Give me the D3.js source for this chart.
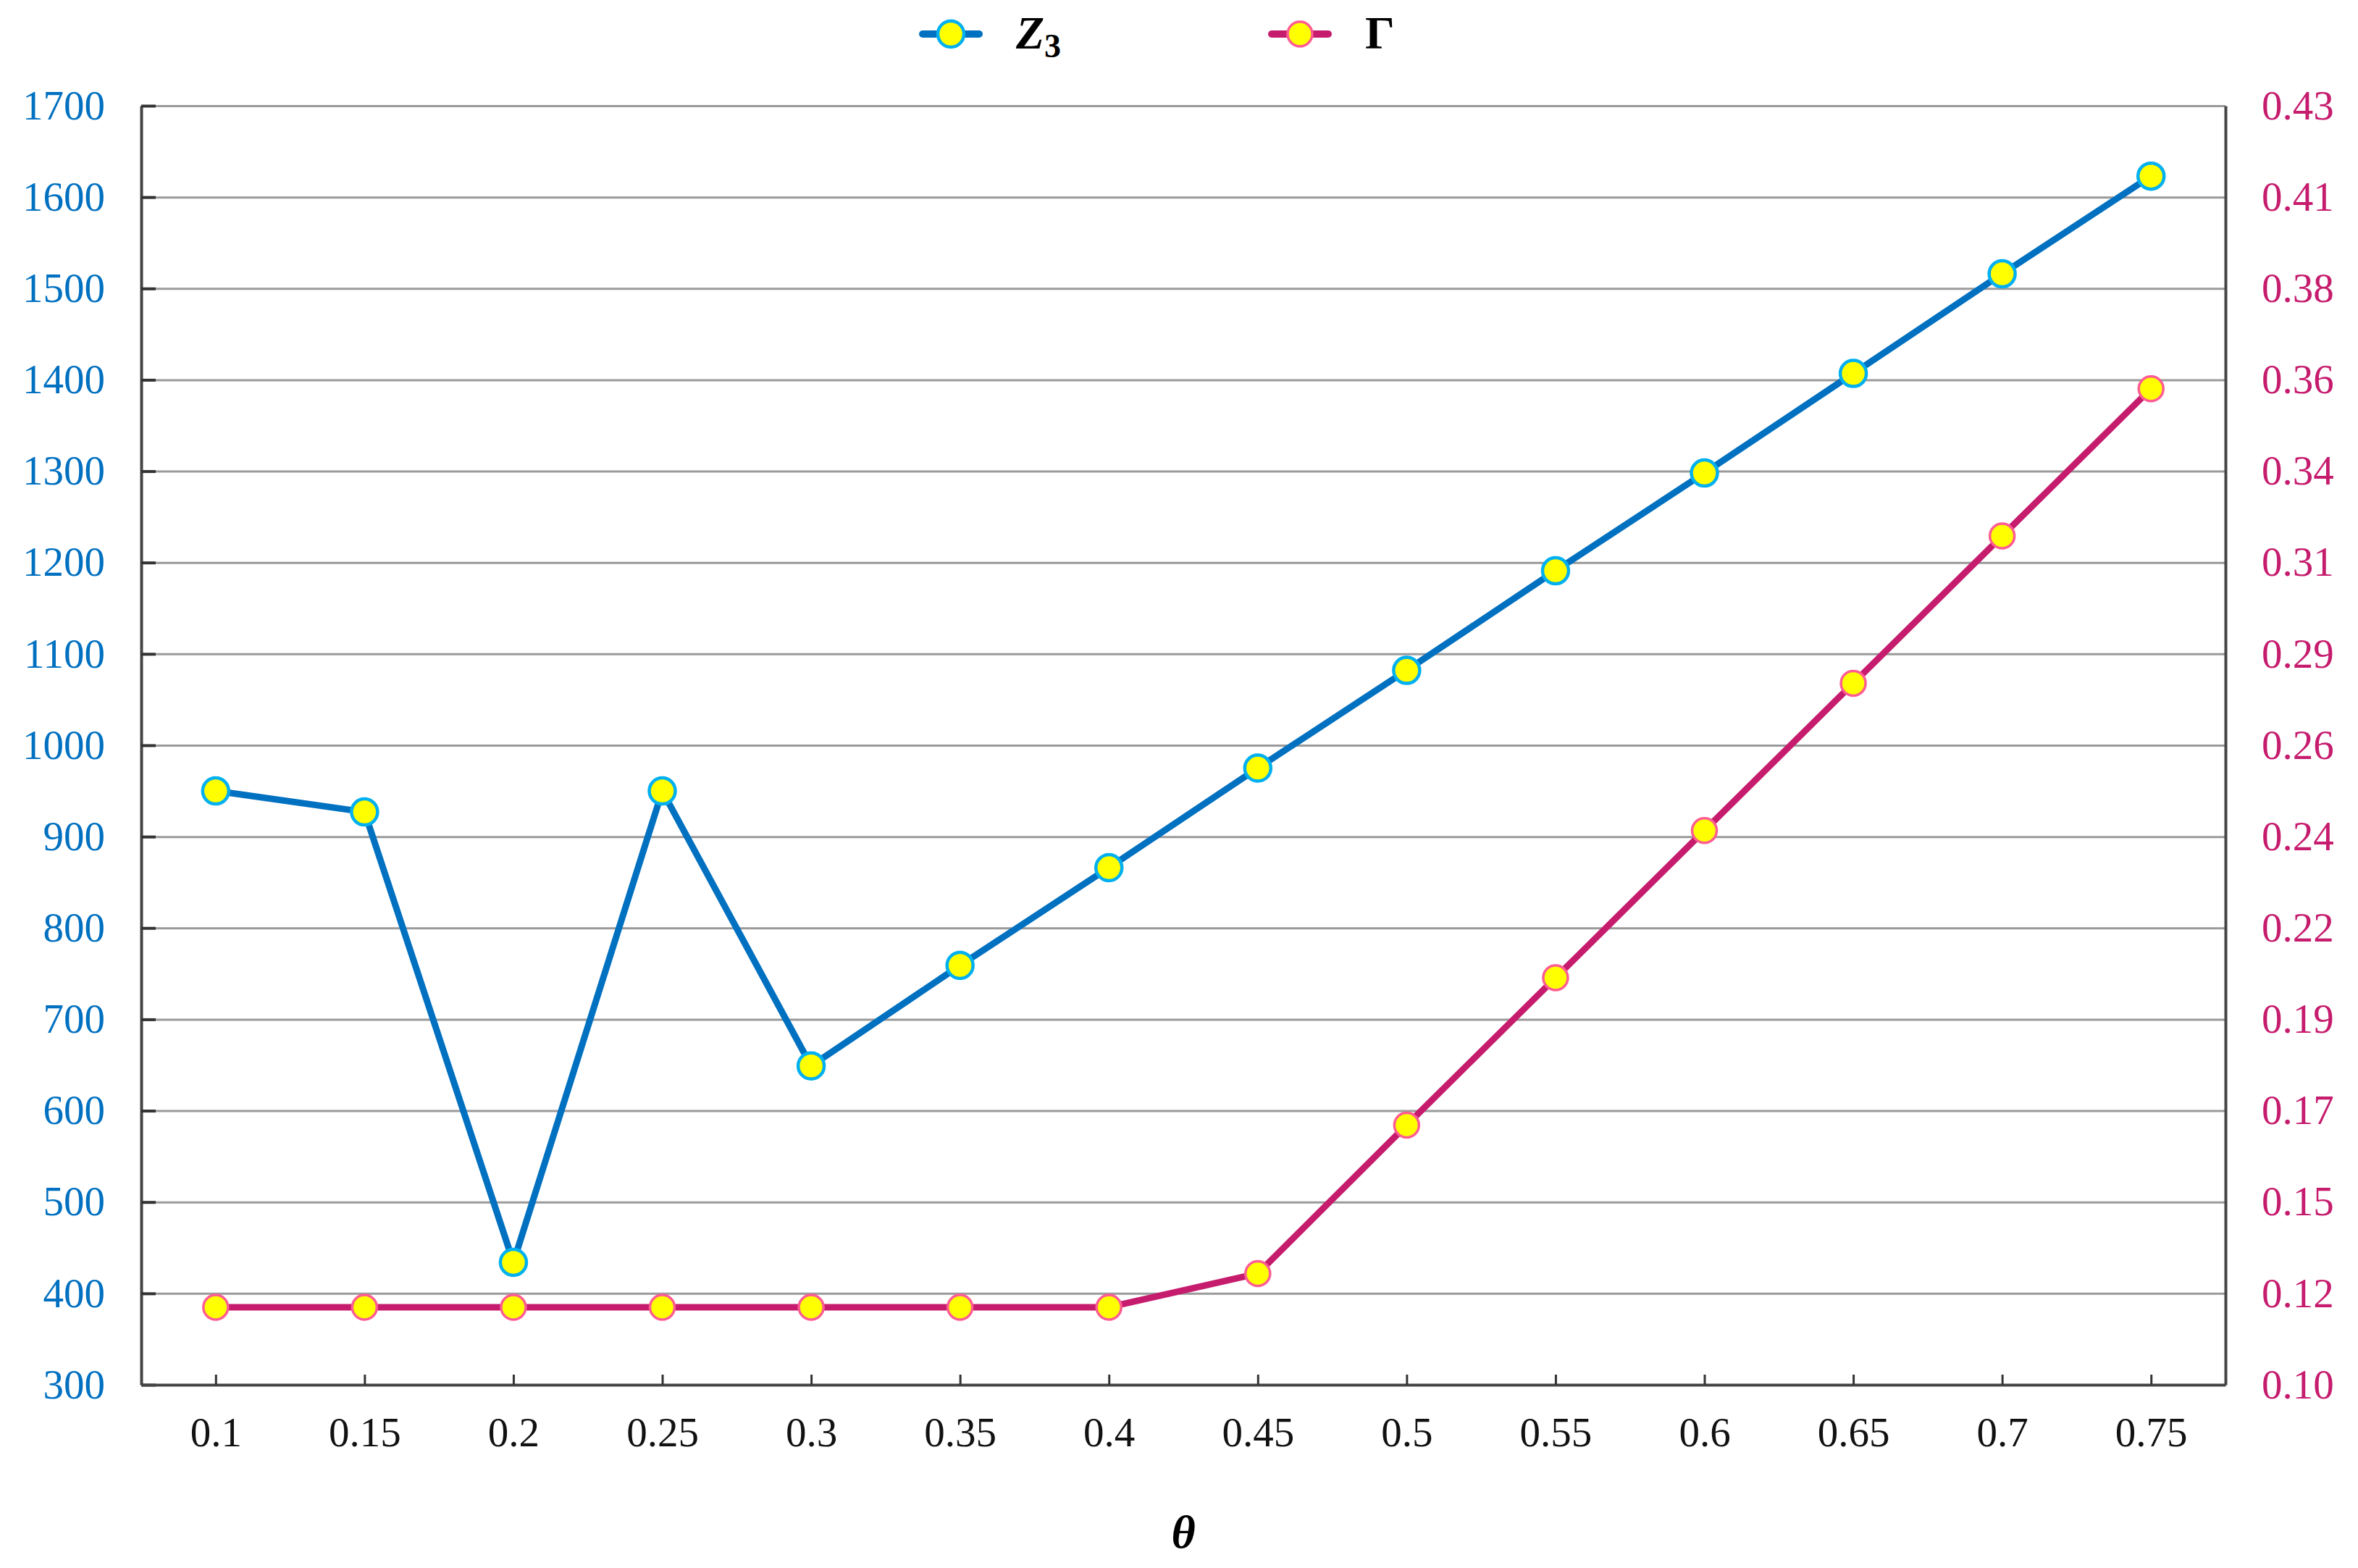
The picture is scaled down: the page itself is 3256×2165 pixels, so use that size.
<!DOCTYPE html>
<html>
<head>
<meta charset="utf-8">
<script src="https://cdn.jsdelivr.net/npm/d3@7"></script>
<style>
  body { margin: 0; background: #fff; }
</style>
</head>
<body>
<div id="chart"></div>
<script>
const thetaValues = ["0.1", "0.15", "0.2", "0.25", "0.3", "0.35", "0.4", "0.45", "0.5", "0.55", "0.6", "0.65", "0.7", "0.75"];
const z3Values = [950, 927, 434, 950, 649, 759, 866, 975, 1082, 1191, 1298, 1407, 1516, 1623];
const gammaValues = [0.12, 0.12, 0.12, 0.12, 0.12, 0.12, 0.12, 0.1287, 0.167, 0.205, 0.243, 0.281, 0.319, 0.357];
const zTicks = [300, 400, 500, 600, 700, 800, 900, 1000, 1100, 1200, 1300, 1400, 1500, 1600, 1700];
const gammaTickLabels = ["0.10", "0.12", "0.15", "0.17", "0.19", "0.22", "0.24", "0.26", "0.29", "0.31", "0.34", "0.36", "0.38", "0.41", "0.43"];

const width = 3256,
  height = 2165,
  margin = ({ top: 146, right: 183, bottom: 253, left: 195 });

const blue = "#0070C0", blueEdge = "#00B0F0";
const pink = "#C61C6E", pinkEdge = "#FF5C93";
const yellow = "#FFFF00";
const serif = "'Liberation Serif', 'Times New Roman', serif";

let x = d3.scalePoint()
  .domain(thetaValues)
  .range([margin.left, width - margin.right])
  .padding(0.5);

let yZ = d3.scaleLinear()
  .domain([300, 1700])
  .range([height - margin.bottom, margin.top]);

let yG = d3.scaleLinear()
  .domain([0.10, 0.43])
  .range([height - margin.bottom, margin.top]);

// right-hand ticks sit on the same gridlines as the left ones
const gammaTickValues = gammaTickLabels.map((d, i) => 0.10 + i * 0.33 / 14);

const svg = d3.select("#chart")
  .append("svg")
  .attr("width", width)
  .attr("height", height)
  .style("background", "#fff");

// horizontal grid
svg.append("g")
  .attr("transform", `translate(${margin.left},0)`)
  .call(d3.axisLeft(yZ).tickValues(zTicks.slice(1)).tickSize(-(width - margin.left - margin.right)).tickFormat(""))
  .call(g => g.select(".domain").remove())
  .call(g => g.selectAll("line").attr("stroke", "#9a9a9a").attr("stroke-width", 3));

// left axis
svg.append("g")
  .attr("transform", `translate(${margin.left},0)`)
  .call(d3.axisLeft(yZ).tickValues(zTicks).tickFormat(d3.format("d")).tickSize(-20).tickPadding(50).tickSizeOuter(0))
  .call(g => g.select(".domain").attr("stroke", "#444").attr("stroke-width", 4))
  .call(g => g.selectAll("line").attr("stroke", "#333").attr("stroke-width", 4))
  .call(g => g.selectAll("text").attr("fill", blue).style("font", `57px ${serif}`));

// right axis
svg.append("g")
  .attr("transform", `translate(${width - margin.right},0)`)
  .call(d3.axisRight(yG).tickValues(gammaTickValues).tickFormat((d, i) => gammaTickLabels[i]).tickSize(0).tickPadding(50).tickSizeOuter(0))
  .call(g => g.select(".domain").attr("stroke", "#444").attr("stroke-width", 4))
  .call(g => g.selectAll("text").attr("fill", pink).style("font", `57px ${serif}`));

// bottom axis
svg.append("g")
  .attr("transform", `translate(0,${height - margin.bottom})`)
  .call(d3.axisBottom(x).tickSize(-14).tickPadding(45).tickSizeOuter(0))
  .call(g => g.select(".domain").attr("stroke", "#444").attr("stroke-width", 4))
  .call(g => g.selectAll("line").attr("stroke", "#333").attr("stroke-width", 3))
  .call(g => g.selectAll("text").attr("fill", "#111").style("font", `57px ${serif}`));

// x axis title
svg.append("text")
  .attr("x", (margin.left + width - margin.right) / 2)
  .attr("y", 2137)
  .attr("text-anchor", "middle")
  .style("font", `italic bold 64px ${serif}`)
  .attr("fill", "#000")
  .text("θ");

const series = [
  { name: "Z3", values: z3Values, y: yZ, line: blue, edge: blueEdge, r: 18, sw: 4.5 },
  { name: "Γ", values: gammaValues, y: yG, line: pink, edge: pinkEdge, r: 17, sw: 3.5 }
];

for (let s of series) {
  let line = d3.line()
    .x((d, i) => x(thetaValues[i]))
    .y(d => s.y(d));

  svg.append("path")
    .datum(s.values)
    .attr("fill", "none")
    .attr("stroke", s.line)
    .attr("stroke-width", 9)
    .attr("stroke-linejoin", "round")
    .attr("d", line);

  svg.append("g")
    .selectAll("circle")
    .data(s.values)
    .join("circle")
    .attr("cx", (d, i) => x(thetaValues[i]))
    .attr("cy", d => s.y(d))
    .attr("r", s.r)
    .attr("fill", yellow)
    .attr("stroke", s.edge)
    .attr("stroke-width", s.sw);
}

// legend
const legendX = [1313, 1795];
const legend = svg.append("g");
series.forEach((s, i) => {
  let g = legend.append("g").attr("transform", `translate(${legendX[i]},47)`);
  g.append("line")
    .attr("x1", -39).attr("x2", 39)
    .attr("stroke", s.line).attr("stroke-width", 10).attr("stroke-linecap", "round");
  g.append("circle")
    .attr("r", s.r).attr("fill", yellow)
    .attr("stroke", s.edge).attr("stroke-width", s.sw);
  let t = g.append("text")
    .attr("x", 90)
    .attr("y", 20)
    .attr("fill", "#000")
    .style("font", `bold 64px ${serif}`);
  if (s.name === "Z3") {
    t.append("tspan").style("font-style", "italic").text("Z");
    t.append("tspan").attr("dy", 12).style("font-size", "46px").text("3");
  } else {
    t.text(s.name);
  }
});
</script>
</body>
</html>
